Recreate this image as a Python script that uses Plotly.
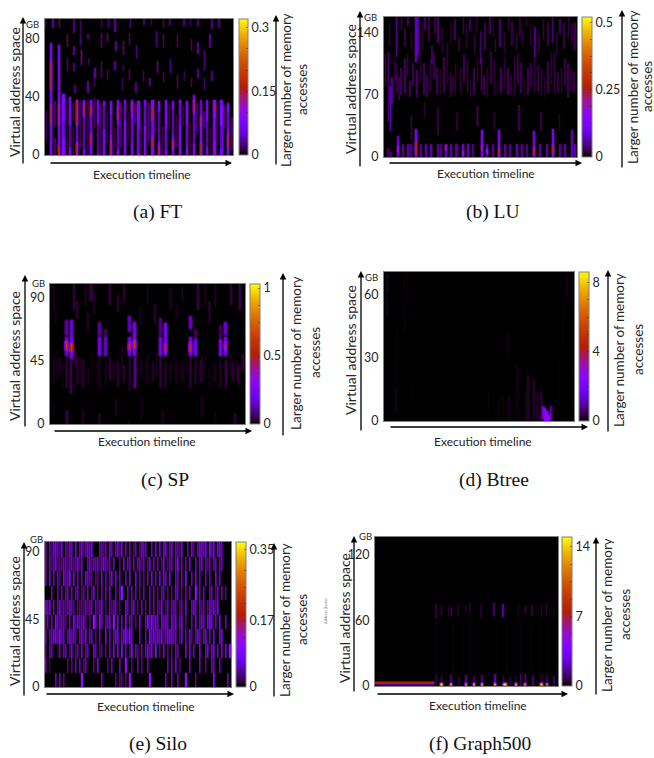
import numpy as np
import plotly.graph_objects as go

W, H = 654, 758

# ---------- tick labels ----------
ft_yticks = [0, 40, 80]
lu_yticks = [0, 70, 140]
sp_yticks = [0, 45, 90]
bt_yticks = [0, 30, 60]
si_yticks = [0, 45, 90]
gr_yticks = [0, 60, 120]
ft_cticks = [0, 0.15, 0.3]
lu_cticks = [0, 0.25, 0.5]
sp_cticks = [0, 0.5, 1]
bt_cticks = [0, 4, 8]
si_cticks = [0, 0.17, 0.35]
gr_cticks = [0, 7, 14]

# ---------- FT : (time %, low GB, high GB, value) ----------
ft_main = [(3.2,0,77,.085),(7.6,0,76,.08),(10,0,42,.09),(13.6,0,40,.08),(17.1,0,38,.085),(20.8,0,38,.08),
           (24.7,0,38,.09),(28.2,0,38,.07),(31.7,0,37,.08),(35.3,0,37,.09),(38.8,0,38,.085),(42.5,0,38,.09),
           (46.4,0,38,.09),(49.9,0,37,.08),(53.4,0,38,.09),(57.3,0,38,.085),(60.8,0,37,.08),(64.7,0,38,.09),
           (68.3,0,37,.08),(72,0,38,.09),(75.5,0,37,.09),(79.4,0,41,.085),(82.9,0,38,.09),(86.4,0,38,.08),
           (90.3,0,38,.09),(94,0,38,.08),(97.5,0,36,.09)]
ft_hot = [(3.2,45,65,.17),(3.2,20,35,.16),(7.6,0,6,.19),(7.6,20,35,.15),(10,0,5,.2),(17.1,22,38,.18),
          (17.1,0,8,.17),(20.8,28,36,.17),(24.7,28,34,.18),(24.7,8,14,.17),(35.3,0,10,.16),(38.8,25,34,.17),
          (46.4,30,36,.16),(57.3,5,12,.17),(57.3,25,33,.17),(60.8,0,6,.16),(68.3,4,10,.17),(79.4,30,38,.17),
          (82.9,0,8,.18),(82.9,20,26,.16),(90.3,30,36,.15),(94,22,34,.17),(97.5,5,14,.17)]
ft_dim = [(1,10,30,.025),(5.5,0,12,.025),(5.5,20,37,.025),(12,0,38,.015),(15.4,0,20,.025),(15.4,24,36,.03),(19,5,38,.025),
          (23,0,38,.02),(26.4,18,40,.03),(30,0,35,.02),(33.5,8,30,.025),(37,0,20,.015),(40.6,5,36,.025),(44.5,10,30,.015),
          (48,22,36,.03),(51.6,0,24,.02),(55.4,10,36,.03),(59,15,30,.025),(62.8,0,20,.015),(66.5,18,36,.025),(70.2,5,28,.02),
          (73.8,20,34,.025),(77.5,0,22,.015),(81,14,36,.025),(84.6,18,30,.025),(88.2,0,20,.015),(92,10,34,.025),(95.8,18,34,.02),(99.5,4,26,.025)]
ft_upper = [(0,88,93.6,.03),(4.4,88,93.6,.04),(7.9,88,93.6,.04),(15.5,84,93.6,.03),(19,84,93.6,.03),(30.3,88,93.6,.03),
            (33.9,88,93.6,.04),(37.4,85,93.6,.04),(45.5,88,93.6,.04),(52.9,90,93.6,.03),(56.8,90,93.6,.03),(63.2,88,93.6,.03),
            (66.7,90,93.6,.03),(74,89,93.6,.03),(77.6,90,93.6,.03),(81.5,89,93.6,.03),(89,87,93.6,.03),(92.6,88,93.6,.03),
            (12,75,83,.04),(19,76,83,.04),(23,80,83,.03),(30.3,74,84,.04),(33.5,78,84,.04),(37.9,72,78.5,.035),(41.8,69,78.5,.04),
            (45,76,84,.035),(48.9,67,76,.04),(59.4,75,85,.04),(63.2,74,83,.035),(70.6,75,83,.035),(78,72,80,.035),(81.5,70,78,.035),
            (19.4,62,72,.06),(15.5,69,75,.035),(85,58,72,.04),(88,74,83,.035),(12,58,67,.035),(15.5,58,63,.03),(23.3,62,67,.03),
            (26.8,53,60,.045),(30.3,53,65,.035),(33.5,52,59,.03),(37.4,59,65,.035),(41.8,58,62,.03),(45,51,59,.035),(52.6,51,58,.03),
            (60,57,65,.05),(67,57,66,.04),(70.6,46,55,.035),(63.2,50,57,.03),(74.4,51,58,.03),(78,47,53,.03),(81.5,53,59,.03),
            (85,45,53,.035),(89,51,58,.03),(56,48,53,.03),(23,43,51,.04),(26.5,47,53,.03),(16,43,48,.03),(48.5,43,50,.03),(41.5,45,53,.03)]
# stretches where a stripe is weaker: (time %, low GB, high GB, fraction kept)
ft_weak = [(10,12,24,.6),(13.6,6,20,.5),(17.1,10,20,.7),(20.8,4,26,.6),(24.7,16,26,.7),(28.2,2,22,.5),(31.7,18,34,.6),(35.3,14,28,.7),
           (38.8,4,22,.6),(42.5,24,36,.7),(46.4,8,26,.7),(49.9,2,18,.6),(53.4,20,34,.7),(57.3,14,24,.7),(60.8,10,30,.6),(64.7,4,18,.7),
           (68.3,14,32,.6),(72,22,36,.7),(75.5,6,20,.7),(79.4,8,28,.6),(82.9,28,38,.7),(86.4,6,24,.6),(90.3,10,26,.7),(94,4,20,.6),(97.5,18,30,.7)]

# ---------- LU ----------
lu_low = [(2.2,0,10,.04),(4,0,6,.05),(7.4,0,23,.1),(10,0,15,.06),(12.6,0,15,.07),(14.3,0,15,.05),(16.6,0,31,.13),(19.5,0,15,.06),
          (22,0,15,.07),(24.7,0,15,.08),(28.2,0,15,.06),(29.9,0,15,.05),(32.2,0,15,.09),(34.6,0,15,.07),(37.7,0,15,.06),(41.2,0,15,.1),
          (43.8,0,15,.08),(46.4,0,15,.05),(50.7,0,30,.13),(53.3,0,15,.08),(56.7,0,15,.06),(59.9,0,30,.13),(62.8,0,15,.07),(65.4,0,15,.06),
          (68.9,0,15,.08),(71.5,0,15,.06),(74,0,15,.05),(77.9,0,29,.12),(81,0,15,.06),(84.4,0,15,.07),(87.5,0,31,.13),(91.3,0,15,.06),
          (93.9,0,15,.07),(97.4,0,30,.08),(99,0,15,.07)]
lu_hot = [(16.6,3,17,.3),(7.4,6,12,.24),(50.7,8,14,.26),(59.9,2,10,.28),(77.9,3,11,.28),(87.5,4,13,.3),(32.2,8,13,.24),(53.3,4,9,.22),(41.2,2,7,.2)]
lu_mid = [(1,80,115,.035),(2.5,40,118,.06),(3.5,30,80,.09),(4.2,60,90,.05),(6.6,72,105,.035),(9,70,100,.03),(11,72,110,.035),(13.5,68,85,.03),
          (17.3,68,98,.035),(20.8,70,105,.03),(24.2,73,110,.03),(27.7,70,100,.03),(31.1,72,112,.03),(34.6,68,95,.03),(37.2,70,105,.025),(39.8,72,100,.03),
          (43.3,72,110,.035),(46.7,70,100,.03),(50.7,75,112,.045),(53.8,68,100,.03),(57.3,70,110,.03),(60.8,72,100,.035),(64.3,70,100,.03),(67.7,68,112,.03),
          (71.2,72,105,.03),(74.7,70,100,.03),(78.1,72,112,.035),(81.6,70,100,.03),(85,72,108,.03),(88.5,72,115,.035),(92,72,100,.03),(95.5,68,105,.03),(98.5,72,95,.025),
          (14.5,20,47,.04),(21.2,45,62,.025),(28,25,55,.025),(38,30,50,.02),(48.5,35,57,.06),(57.3,30,50,.025),(70,30,58,.03),(81.5,30,50,.025),(91,30,48,.025),
          (5.5,85,110,.03),(8,65,90,.025),(12.2,90,115,.03),(15.2,80,105,.03),(19,85,118,.025),(22.5,68,92,.025),(26,88,115,.025),(29.4,70,98,.02),(33,82,112,.025),(36,72,92,.02),
          (41.5,85,115,.03),(45,68,88,.02),(48.5,85,112,.025),(52,70,92,.03),(55.5,82,118,.025),(59,70,88,.02),(62.5,78,112,.03),(66,72,92,.02),(69.5,82,115,.025),(73,68,90,.02),
          (76.4,80,105,.025),(80,75,102,.025),(83.3,68,90,.02),(87,82,118,.03),(90.3,72,95,.02),(94,80,110,.025),(97,75,100,.02)]
lu_up = [(6.6,113,157,.07),(9.2,143,157,.04),(12.6,148,157,.035),(16.6,107,157,.08),(17.8,115,157,.06),(21.4,143,157,.035),(28.2,128,157,.04),(36.9,132,155,.035),
         (41.2,139,157,.04),(44.6,142,155,.035),(50.2,105,141,.05),(55,139,157,.035),(60.2,124,155,.04),(64.5,143,157,.035),(68.9,120,139,.035),(74,148,157,.03),
         (78.4,113,146,.05),(82.7,132,155,.035),(87.5,128,157,.06),(91.3,139,155,.035),(95.6,135,157,.035),(25,105,125,.03),(33,110,128,.03),(47,115,135,.035),(58,118,132,.035),(72,125,142,.03),(99,120,150,.03),
         (3,125,150,.025),(11,125,145,.025),(14.5,120,140,.025),(20,120,150,.025),(23.5,130,157,.025),(26.5,138,157,.025),(30.5,118,145,.03),(34.5,125,152,.02),(39,118,135,.02),(43,122,150,.025),
         (48,140,157,.025),(52.5,120,150,.03),(57,135,157,.02),(62.5,115,140,.025),(66.5,125,152,.025),(70.5,135,157,.02),(76,125,150,.025),(80.5,118,138,.02),(85,125,150,.025),(89.5,115,140,.025),(93.5,122,150,.025),(97.5,128,150,.02)]

# ---------- SP ----------
sp_blobs = [(8.5,49,62,.2),(11,47,62,.22),(8.5,53,59,.7),(11,52,58,.7),(8.5,63,74,.14),(11,58,74,.2),(25.6,49,62,.23),(28.7,49,62,.18),(25.6,63,73,.13),(28.7,60,68,.08),
            (41,49,62,.22),(43.6,49,65,.23),(41,53,58,.62),(43.6,54,60,.68),(41,66,77,.16),(43.6,62,73,.23),(56.8,49,62,.22),(59.4,49,62,.24),(59.4,52,57,.55),(56.8,63,76,.1),(59.4,62,72,.25),
            (72.2,49,62,.23),(74.7,49,61,.23),(72.2,52,58,.62),(72.2,68,77,.18),(74.7,60,68,.07),(87.6,49,61,.22),(90.3,49,62,.24),(90.3,53,58,.52),(87.6,62,71,.07),(90.3,64,73,.2)]
sp_lower = [(8.5,26,48,.09),(11,22,48,.07),(2,28,48,.04),(5,36,48,.05),(14,28,50,.035),(17,26,46,.04),(20,28,40,.04),(25.6,25,48,.05),(28.7,28,46,.04),(31,32,48,.04),
            (35,27,45,.04),(38,30,42,.04),(41,24,48,.07),(43.6,26,48,.15),(47,32,46,.04),(50,28,50,.04),(53,30,45,.035),(56.8,26,48,.09),(59.4,26,44,.07),(62,30,44,.035),
            (65,28,46,.04),(68,32,44,.04),(72.2,26,48,.09),(74.7,28,46,.07),(78,30,48,.035),(82,26,40,.035),(85,30,42,.04),(87.6,26,46,.06),(90.3,26,46,.06),(94,30,44,.035),(97,28,42,.04),(99,38,50,.05),
            (3.5,30,52,.025),(6.5,26,44,.03),(13,40,56,.025),(15.5,30,48,.025),(22,32,52,.025),(24,28,44,.025),(33,30,46,.025),(37,40,56,.025),(46,36,52,.025),(49,30,44,.025),(55,34,50,.025),(64,36,50,.025),(67,30,44,.025),(70,36,52,.025),(77,30,46,.025),(80,32,50,.025),(84,28,44,.025),(93,34,50,.025),(96,30,46,.025)]
sp_upper = [(2,83,100,.04),(3,70,85,.03),(12.5,82,100,.05),(14,75,88,.04),(18.3,84,100,.05),(19.5,66,80,.03),(21,88,100,.09),(22,88,100,.07),(23,78,92,.05),(31,85,100,.05),(35,80,92,.04),
            (38,88,100,.04),(46.5,70,84,.04),(50,85,100,.04),(54,72,86,.04),(62,82,97,.05),(65,75,86,.04),(68,88,98,.05),(76,82,100,.06),(80,85,100,.05),(82,72,88,.07),(85,84,100,.05),(93,85,100,.05),(97.5,82,100,.07)]
sp_bottom = [(8.8,0,10,.07),(25.6,0,8,.08),(41,0,3,.04),(17,0,10,.03),(47,4,20,.03),(58,0,9,.03),(78,5,20,.03),(85,0,10,.03),(95,0,8,.04),(34,6,18,.025),(2,5,15,.03)]

# ---------- Btree ----------
bt_wedge = [(85,0,6,2.6),(86,0,5,3),(87,0,3,2.8),(84,1,7,1.6),(88,0,7,1.2)]
bt_faint = [(83,0,14,.7),(81,0,14,.5),(79,0,20,.3),(76,0,22,.3),(74.5,0,14,.2),(71,0,25,.2),(66,0,12,.2),
           (70,6,28,.18),(63,0,12,.18),(60.5,0,10,.18),(55,5,14,.15),(92,2,30,.1),(1.8,50,70,.15),(2.5,62,70,.13),(6.5,4,15,.15),(6.8,15,30,.15),(7.2,30,45,.1),(11,42,70,.15),(12.5,58,68,.13),
           (15,10,18,.08),(15,48,52,.08),(65.5,30,42,.1),(94,37,50,.1),(95,50,60,.1),(96.5,60,68,.15)]

# ---------- Silo : one string of activity levels per address band, bottom band first ----------
si_levels = [0, .02, .04, .06, .08, .11, .22]
si_band0 = "0000030302 0000000060 0000000030 0000020220 2060000000 0060000000 3003003000 6000020000 0000500000 030"
si_band1 = "3010000000 0202030302 3000204000 0203000300 6002003020 0300000000 0303040200 0030000300 2003300300 000"
si_band2 = "2033001303 3024023040 3300430220 2030404050 3025032030 3434050204 0202033000 4040300400 3404403040 406"
si_band3 = "3033443533 0343420342 4033020300 4030344034 5353000300 3053434342 3444330240 3042034303 4030400440 000"
si_band4 = "2303053333 2030524334 2020630530 3340604030 5033020400 3535343043 4304340340 2003040343 0454030400 300"
si_band5 = "4340303423 2343202222 3233032340 2032330200 4303402030 2030303240 2303330230 4003430323 0243424000 000"
si_band6 = "0003003030 3303033023 0302402030 3040030360 0303030203 0030302033 0202043020 3030060303 0033023030 200"
si_band7 = "3040303204 3350403030 4332022040 3034040300 3040040302 0304030404 3040033030 5003040300 3030040300 000"
si_band8 = "3032342223 3233234230 0342333234 3230300204 0330303323 0240303024 0233035030 3040030340 3230330330 000"
si_band9 = "3032443240 3243040342 3434000332 3043034240 3030230243 3003040404 4034033240 0304203443 4053404430 000"
si_bands = [si_band0, si_band1, si_band2, si_band3, si_band4, si_band5, si_band6, si_band7, si_band8, si_band9]

# ---------- Graph500 ----------
gr_line = [(1,2.4,4,9),(3,2.4,4,9),(5,2.4,4,9),(7,2.4,4,9),(9,2.4,4,9),(11,2.4,4,9),(13,2.4,4,9),(15,2.4,4,9),
           (17,2.4,4,9),(19,2.4,4,9),(21,2.4,4,9),(23,2.4,4,9),(25,2.4,4,9),(27,2.4,4,9),(29,2.4,4,9),(31,2.4,4,9)]
gr_spot = [(36.5,0,3,15),(41.6,0,3,15),(49.9,0,3,14),(54.1,0,3,15),(58.7,0,3,15),(65.8,0,3,15),(70.4,0,3,15),(71.8,0,3,14),(77,0,3,15),(82.3,0,3,14),(91.1,0,3,14),(93.9,0,3,13)]
gr_base = [(33.5,0,10,.6),(36.5,3,9,1.2),(41.6,3,10,1.2),(46,0,8,.6),(49.9,3,10,1.6),(54.1,3,9,1),(58.7,3,10,1.2),(65.8,3,11,2),(70.4,3,10,1.2),(74,0,8,.6),(77,3,9,1),
           (79.7,0,11,1.6),(82.3,3,11,2),(86.6,0,9,1.2),(91.1,3,10,1),(93.9,3,10,1.2),(98,0,9,1)]
gr_top = [(33.5,62,75,.6),(36.5,65,73,.9),(40.2,63,74,.6),(42,64,72,1.4),(45.6,64,75,.4),(49.6,66,74,.6),(52,65,76,.4),(58,62,75,.4),(65.3,64,76,1.1),(70.2,63,75,1.8),(78.5,64,74,.6),
           (82.3,66,73,1.1),(85.9,64,74,.7),(91.1,63,74,.8),(93.9,65,75,1),(97.6,62,72,.4)]
gr_faint = [(33.5,10,62,.16),(37,10,60,.1),(43,10,62,.12),(48,12,62,.1),(52,10,60,.12),(57,14,60,.1),(62,10,60,.12),(67,12,60,.12),(72,10,62,.1),(76,12,58,.1),(80,10,60,.12),(85,12,60,.1),(90,10,62,.12),(95,10,60,.1)]

# ---------- gnuplot default palette ----------
def pal(x):
    r = np.sqrt(x); g = x ** 3; b = max(0.0, np.sin(2 * np.pi * x))
    return f"rgb({int(r*255)},{int(g*255)},{int(b*255)})"
cscale = [[i / 32, pal(i / 32)] for i in range(33)]

def soften(z, sigma):
    k = np.exp(-0.5 * (np.arange(-3, 4) / sigma) ** 2); k /= k.sum()
    z = np.apply_along_axis(lambda a: np.convolve(a, k, mode="same"), 1, z)
    return np.apply_along_axis(lambda a: np.convolve(a, k, mode="same"), 0, z)

def build(groups, ymax, nx, ny, sigma=.6, weak=(), weak_width=.8):
    z = np.zeros((ny, nx))
    for seg, width in groups:
        for t, lo, hi, v in seg:
            c0 = max(0, int((t - width / 2) / 100 * nx))
            c1 = max(c0 + 1, int(round((t + width / 2) / 100 * nx)))
            r0 = int(lo / ymax * ny)
            r1 = max(r0 + 1, int(round(hi / ymax * ny)))
            z[r0:r1, c0:c1] = np.maximum(z[r0:r1, c0:c1], v)
    for t, lo, hi, f in weak:
        c0 = max(0, int((t - weak_width / 2) / 100 * nx))
        c1 = max(c0 + 1, int(round((t + weak_width / 2) / 100 * nx)))
        z[int(lo / ymax * ny):int(hi / ymax * ny), c0:c1] *= f
    return soften(z, sigma)

def silo_matrix(nx=186, row_px=14):
    rows = []
    for b in si_bands:
        digits = [si_levels[int(ch)] for ch in b.replace(" ", "")]
        line = [v for d in digits for v in (d, .45 * d)][:nx]
        rows += [line] * row_px
    return soften(np.array(rows), .4)

panels = [
 dict(rect=(45,19,233,155),  bar=(239,248), ymax=93.6, zmax=.32, yt=ft_yticks, ct=ft_cticks, cm=.05,
      z=build([(ft_main,.9),(ft_hot,.7),(ft_dim,.5),(ft_upper,.5)],93.6,188,136,weak=ft_weak), smooth=False,
      up=(23,165,17), hz=(49,232,163), rt=(276,166,15), title=(14,92), ex=(142,174), l1=(286,90), l2=(302,90), gb=(32,25), cap=("(a) FT",157,212)),
 dict(rect=(384,17,577,157), bar=(582,592), ymax=157, zmax=.52, yt=lu_yticks, ct=lu_cticks, cm=.0625,
      z=build([(lu_low,.8),(lu_hot,.8),(lu_mid,.5),(lu_up,.5)],157,193,140), smooth=False,
      up=(360,168,11), hz=(388,582,163), rt=(622,169,10), title=(350,89), ex=(486,173), l1=(633,87), l2=(647,87), gb=(370,17), cap=("(b) LU",493,212)),
 dict(rect=(50,284,245,424), bar=(250,260), ymax=100, zmax=1.03, yt=sp_yticks, ct=sp_cticks, cm=.125,
      z=build([(sp_blobs,1.3),(sp_lower,.5),(sp_upper,.5),(sp_bottom,.5)],100,195,140,sigma=.85), smooth=False,
      up=(25,428,275), hz=(53,252,431), rt=(283,437,273), title=(15,356), ex=(147,441), l1=(296,353), l2=(315,353), gb=(38,283), cap=("(c) SP",165,480)),
 dict(rect=(384,272,574,421),bar=(579,589), ymax=71, zmax=8.6, yt=bt_yticks, ct=bt_cticks, cm=1,
      z=build([(bt_wedge,.9),(bt_faint,.5)],71,190,149,sigma=.8), smooth=False,
      up=(361,432,271), hz=(389,588,427), rt=(608,433,270), title=(351,350), ex=(483,441), l1=(619,350), l2=(638,350), gb=(371,278), cap=("(d) Btree",494,480)),
 dict(rect=(45,542,231,687), bar=(236,246), ymax=96.5, zmax=.37, yt=si_yticks, ct=si_cticks, cm=.0425,
      z=silo_matrix(), smooth=False,
      up=(24,697,542), hz=(45,234,694), rt=(274,698,543), title=(14,621), ex=(146,706), l1=(285,620), l2=(302,620), gb=(36,539), cap=("(e) Silo",158,744)),
 dict(rect=(375,537,558,686),bar=(562,572), ymax=136, zmax=15, yt=gr_yticks, ct=gr_cticks, cm=1.75,
      z=build([(gr_line,2.2),(gr_spot,.9),(gr_base,.6),(gr_top,.6),(gr_faint,.5)],136,183,149), smooth=False,
      up=(354,693,536), hz=(376,568,694), rt=(596,696,537), title=(344,618), ex=(478,705), l1=(607,615), l2=(625,615), gb=(365,536), cap=("(f) Graph500",480,744)),
]

fx = lambda p: p / W
fy = lambda p: 1 - p / H
sans = "Lato, 'Noto Sans', sans-serif"
fig = go.Figure()
ann = []

def text(s, x, y, size, angle=0, family=sans, color="#262626"):
    ann.append(dict(text=s, x=fx(x), y=fy(y), xref="paper", yref="paper", showarrow=False, textangle=angle,
                    xanchor="center", yanchor="middle", font=dict(size=size, family=family, color=color)))

def arrow(x0, y0, x1, y1):
    ann.append(dict(text="", x=fx(x1), y=fy(y1), xref="paper", yref="paper", ax=x0 - x1, ay=y0 - y1,
                    axref="pixel", ayref="pixel", showarrow=True, arrowhead=2, arrowsize=1, arrowwidth=1.3, arrowcolor="#000"))

layout = {}
for i, p in enumerate(panels, 1):
    x0, y0, x1, y1 = p["rect"]
    ny, nx = p["z"].shape
    xs = (np.arange(nx) + .5) * 100 / nx
    ys = (np.arange(ny) + .5) * p["ymax"] / ny
    ct = p["ct"]
    n = int(round(ct[-1] / p["cm"]))
    cvals = sorted(set([round(k * p["cm"], 4) for k in range(n + 1)] + list(ct)))
    cvals = [v for v in cvals if v in ct or all(abs(v - c) > p["cm"] / 3 for c in ct)]
    ctext = [f"{v:g}" if v in ct else "" for v in cvals]
    fig.add_trace(go.Heatmap(
        z=p["z"], x=xs, y=ys, xaxis=f"x{i}", yaxis=f"y{i}", colorscale=cscale, zmin=0, zmax=p["zmax"],
        zsmooth=p["smooth"], hoverinfo="skip",
        colorbar=dict(x=fx(p["bar"][0]), xanchor="left", y=fy(y1), yanchor="bottom", len=(y1 - y0) / H, thickness=p["bar"][1] - p["bar"][0],
                      xpad=0, ypad=0, outlinecolor="#808080", outlinewidth=1, tickvals=cvals, ticktext=ctext, ticks="inside", ticklen=2,
                      tickcolor="rgba(60,30,0,.6)", tickfont=dict(size=12.5, family=sans, color="#262626"))))
    layout[f"xaxis{i}"] = dict(domain=[fx(x0), fx(x1)], range=[0, 100], anchor=f"y{i}", showticklabels=False, ticks="", showgrid=False,
                               zeroline=False, showline=True, mirror=True, linecolor="#808080", linewidth=1)
    layout[f"yaxis{i}"] = dict(domain=[fy(y1), fy(y0)], range=[0, p["ymax"]], anchor=f"x{i}", tickvals=p["yt"], ticks="", showgrid=False,
                               zeroline=False, showline=True, mirror=True, linecolor="#808080", linewidth=1,
                               ticklabelstandoff=2, tickfont=dict(size=12.5, family=sans, color="#262626"))
    u = p["up"]; arrow(u[0], u[1], u[0], u[2])
    h = p["hz"]; arrow(h[0], h[2], h[1], h[2])
    r = p["rt"]; arrow(r[0], r[1], r[0], r[2])
    text("Virtual address space", *p["title"], 14, angle=-90)
    text("Execution timeline", *p["ex"], 12)
    text("Larger number of memory", *p["l1"], 13.5, angle=-90)
    text("accesses", *p["l2"], 13.5, angle=-90)
    text("GB", *p["gb"], 9.5)
    c = p["cap"]; text(c[0], c[1], c[2], 19.5, family="'Liberation Serif', serif", color="#111")

text("Address (hexa)", 325, 612, 4, angle=-90, color="#777")
text(". . .", 258, 537, 5, color="#999")
text(". .", 582, 534, 5, color="#999")

fig.update_layout(width=W, height=H, margin=dict(l=0, r=0, t=0, b=0, autoexpand=False), paper_bgcolor="white", plot_bgcolor="black",
                  showlegend=False, annotations=ann, **layout)
fig.write_html("out.html", config=dict(displayModeBar=False), post_script="document.body.style.margin='0';document.documentElement.style.overflow='hidden';")
